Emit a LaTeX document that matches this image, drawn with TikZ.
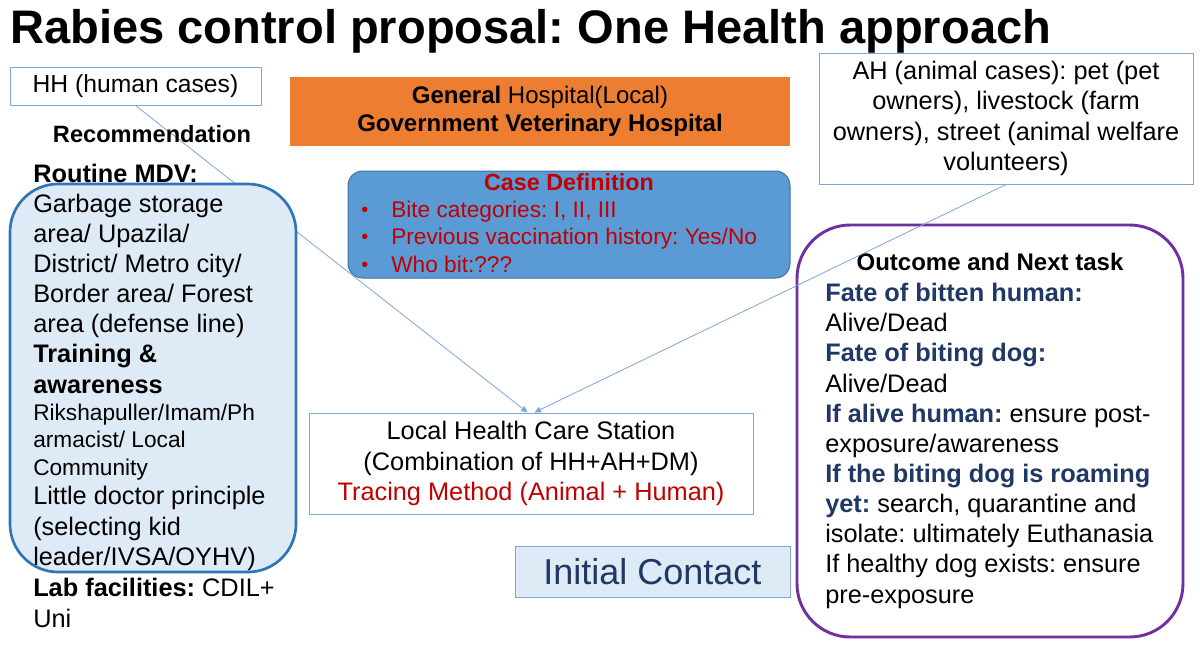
\documentclass[tikz,border=0pt]{standalone}
\usepackage{fontspec}
\setmainfont{Liberation Sans}
\usetikzlibrary{arrows.meta}
\frenchspacing

\definecolor{hhblue}{HTML}{7EA6D8}
\definecolor{recfill}{HTML}{DEEBF7}
\definecolor{recline}{HTML}{2E75B6}
\definecolor{hospfill}{HTML}{ED7D31}
\definecolor{casefill}{HTML}{5B9BD5}
\definecolor{caseline}{HTML}{41719C}
\definecolor{casered}{HTML}{C00000}
\definecolor{navytext}{HTML}{1F3864}
\definecolor{outpurple}{HTML}{7030A0}

\begin{document}
\begin{tikzpicture}[x=0.75pt,y=-0.75pt,
    every node/.style={inner sep=0pt},
    body/.style={font=\fontsize{19}{22.6}\selectfont},
    thinbox/.style={draw=hhblue,fill=white,line width=0.75pt},
    link/.style={draw=hhblue,line width=0.6pt,-{Triangle[length=5pt,width=4.5pt]}}]

    % Page
    \useasboundingbox[fill=white] (0,0) rectangle (1200,665);

    % Title
    \node (title) [anchor=base west, font=\fontsize{35.3}{40}\selectfont\bfseries] at (10,43)
        {Rabies control proposal: One Health approach};

    % Case sources
    \node (hh) [thinbox, minimum width=188.25pt, minimum height=28.5pt,
        font=\fontsize{18.5}{21}\selectfont] at (135.5,86) {HH (human cases)};
    \node (ah) [thinbox, minimum width=280.5pt, minimum height=98.25pt, body, align=center]
        at (1006,118.5) {AH (animal cases): pet (pet\\owners), livestock (farm\\owners), street (animal welfare\\volunteers)};

    % Hospitals
    \node (hosp) [fill=hospfill, minimum width=375pt, minimum height=51.75pt, align=center,
        font=\fontsize{18}{21}\selectfont] at (540,111.5)
        {\textbf{General} Hospital(Local)\\\textbf{Government Veterinary Hospital}};

    % Case definition
    \node (casebox) [fill=casefill, draw=caseline, line width=0.75pt, rounded corners=11pt,
        minimum width=331.5pt, minimum height=80.25pt] at (569,224.5) {};
    \node (casetitle) [anchor=base, text=casered, font=\fontsize{17.5}{21}\selectfont\bfseries]
        at (569,190) {Case Definition};
    \node (casedots) [anchor=base west, text=casered, align=left,
        font=\fontsize{15}{20.5}\selectfont] at (361,271) {•\\•\\•};
    \node (caselist) [anchor=base west, text=casered, align=left,
        font=\fontsize{17}{20.5}\selectfont] at (391,272)
        {Bite categories: I, II, III\\Previous vaccination history: Yes/No\\Who bit:???};

    % Local station and initial contact
    \node (local) [thinbox, minimum width=333pt, minimum height=75.75pt, body, align=center]
        at (531,463.5) {Local Health Care Station\\(Combination of HH+AH+DM)\\\textcolor{casered}{Tracing Method (Animal + Human)}};
    \node (init) [fill=recfill, draw=hhblue, line width=0.75pt, minimum width=206.25pt,
        minimum height=38.25pt, text=navytext, font=\fontsize{27}{32}\selectfont]
        at (652.5,571.5) {Initial Contact};

    % Outcome
    \draw[draw=outpurple, fill=white, line width=2.2pt, rounded corners=40pt]
        (797,225) rectangle (1183,637);
    \node (outtitle) [anchor=base, font=\fontsize{18}{21}\selectfont\bfseries] at (990,270)
        {Outcome and Next task};
    \node (outtext) [anchor=base west, body, align=left] at (825,603)
        {\textcolor{navytext}{\bfseries Fate of bitten human:}\\Alive/Dead\\
         \textcolor{navytext}{\bfseries Fate of biting dog:}\\Alive/Dead\\
         \textcolor{navytext}{\bfseries If alive human:} ensure post-\\exposure/awareness\\
         \textcolor{navytext}{\bfseries If the biting dog is roaming}\\
         \textcolor{navytext}{\bfseries yet:} search, quarantine and\\
         isolate: ultimately Euthanasia\\If healthy dog exists: ensure\\pre-exposure};

    % Links
    \draw[link] (hh.south) -- ([xshift=-2.5pt]local.north);
    \draw[link] (ah.south) -- ([xshift=2.5pt]local.north);

    % Recommendation
    \draw[draw=recline, fill=recfill, line width=2pt, rounded corners=36pt]
        (10,184) rectangle (296,572);
    \node (rec) [anchor=base, font=\fontsize{17.7}{21}\selectfont\bfseries] at (152,142)
        {Recommendation};
    \node (mdv) [anchor=base west, body, align=left] at (33,393)
        {\textbf{Routine MDV:}\\Garbage storage\\area/ Upazila/\\District/ Metro city/\\
         Border area/ Forest\\area (defense line)\\\textbf{Training \&}\\\textbf{awareness}};
    \node (train) [anchor=base west, align=left, font=\fontsize{17}{20.3}\selectfont] at (33,475)
        {Rikshapuller/Imam/Ph\\armacist/ Local\\Community};
    \node (kid) [anchor=base west, align=left, font=\fontsize{19}{22.9}\selectfont] at (33,627)
        {Little doctor principle\\(selecting kid\\leader/IVSA/OYHV)\\
         \textbf{Lab facilities:} CDIL+\\Uni};
\end{tikzpicture}
\end{document}
